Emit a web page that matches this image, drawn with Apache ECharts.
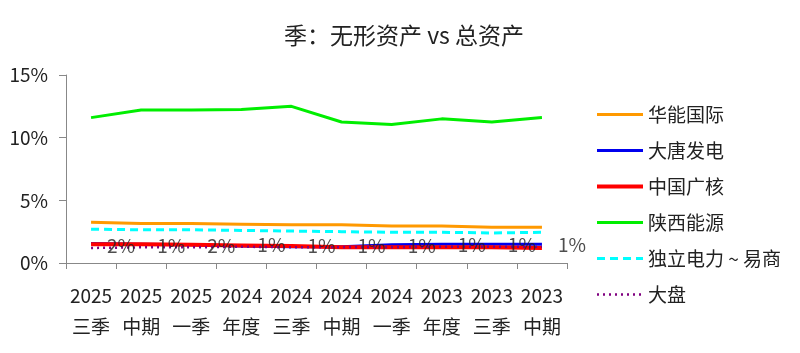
<!DOCTYPE html>
<html>
<head>
<meta charset="utf-8">
<script src="https://cdn.jsdelivr.net/npm/echarts@6/dist/echarts.min.js"></script>
<style>
  html, body { margin: 0; padding: 0; background: #fff; }
  #chart { width: 800px; height: 353px; }
</style>
</head>
<body>
<div id="chart"></div>
<script>
// periods, newest first
const categories = ["2025\n三季", "2025\n中期", "2025\n一季", "2024\n年度", "2024\n三季",
  "2024\n中期", "2024\n一季", "2023\n年度", "2023\n三季", "2023\n中期"];

// 无形资产 / 总资产, in %
const huaneng = [3.25, 3.15, 3.15, 3.1, 3.05, 3.05, 2.95, 2.95, 2.85, 2.85];
const datang = [1.55, 1.5, 1.45, 1.35, 1.3, 1.3, 1.45, 1.5, 1.5, 1.5];
const cgn = [1.5, 1.5, 1.45, 1.4, 1.35, 1.25, 1.25, 1.25, 1.25, 1.2];
const shaanxi = [11.6, 12.2, 12.2, 12.25, 12.5, 11.25, 11.05, 11.5, 11.25, 11.6];
const independent = [2.7, 2.65, 2.65, 2.6, 2.55, 2.5, 2.45, 2.45, 2.4, 2.45];
const market = [1.2, 1.25, 1.25, 1.3, 1.25, 1.25, 1.25, 1.3, 1.3, 1.3];
const marketLabels = ["2%", "1%", "2%", "1%", "1%", "1%", "1%", "1%", "1%", "1%"];

const yTicks = [0, 5, 10, 15];

const font = "'Noto Sans CJK SC', 'Noto Sans', sans-serif";

let chart = echarts.init(document.getElementById("chart"));

function lineSeries(name, data, color, width, type) {
  return {
    name: name,
    type: "line",
    data: data,
    symbol: "none",
    color: color,
    lineStyle: { color: color, width: width, type: type || "solid" }
  };
}

let series = [
  lineSeries("华能国际", huaneng, "#FF9900", 3),
  lineSeries("大唐发电", datang, "#0000EE", 3),
  lineSeries("中国广核", cgn, "#FF0000", 4),
  lineSeries("陕西能源", shaanxi, "#00EE00", 3),
  lineSeries("独立电力 ~ 易商", independent, "#00FFFF", 3, [8, 5]),
  lineSeries("大盘", market, "#800080", 2.5, [2, 4]),
  {
    // value labels of 大盘, not listed in legend
    name: "大盘标签",
    type: "scatter",
    data: market,
    symbol: "circle",
    symbolSize: 0,
    itemStyle: { color: "rgba(0,0,0,0)" },
    z: 5,
    label: {
      show: true,
      position: "right",
      distance: 16,
      offset: [0, -2],
      color: "#222",
      fontSize: 19,
      fontFamily: font,
      formatter: p => marketLabels[p.dataIndex]
    }
  }
];

chart.setOption({
  animation: false,
  textStyle: { fontFamily: font },
  title: {
    text: "季：无形资产 vs 总资产",
    left: 399,
    textAlign: "center",
    top: 19,
    textStyle: { fontSize: 23, fontWeight: "normal", color: "#222", fontFamily: font }
  },
  grid: {
    left: 66,
    right: 233,
    top: 75,
    bottom: 90
  },
  legend: {
    orient: "vertical",
    left: 590,
    top: 100,
    itemWidth: 46,
    itemHeight: 14,
    itemGap: 17,
    itemStyle: { opacity: 0 },
    textStyle: { fontSize: 19, color: "#222", fontFamily: font },
    data: series.slice(0, 6).map(s => ({ name: s.name, lineStyle: { width: s.lineStyle.width } }))
  },
  xAxis: {
    type: "category",
    boundaryGap: true,
    data: categories,
    axisLine: { lineStyle: { color: "#888" } },
    axisTick: { show: true, length: 6, lineStyle: { color: "#888" } },
    axisLabel: {
      interval: 0,
      fontSize: 19,
      color: "#222",
      lineHeight: 31,
      margin: 17,
      fontFamily: font
    },
    splitLine: { show: false }
  },
  yAxis: {
    type: "value",
    min: yTicks[0],
    max: yTicks[yTicks.length - 1],
    interval: 5,
    axisLine: { show: true, lineStyle: { color: "#888" } },
    axisTick: { show: true, length: 7, lineStyle: { color: "#888" } },
    axisLabel: {
      fontSize: 19,
      color: "#222",
      margin: 18,
      fontFamily: font,
      formatter: "{value}%"
    },
    splitLine: { show: false }
  },
  series: series
});
</script>
</body>
</html>
